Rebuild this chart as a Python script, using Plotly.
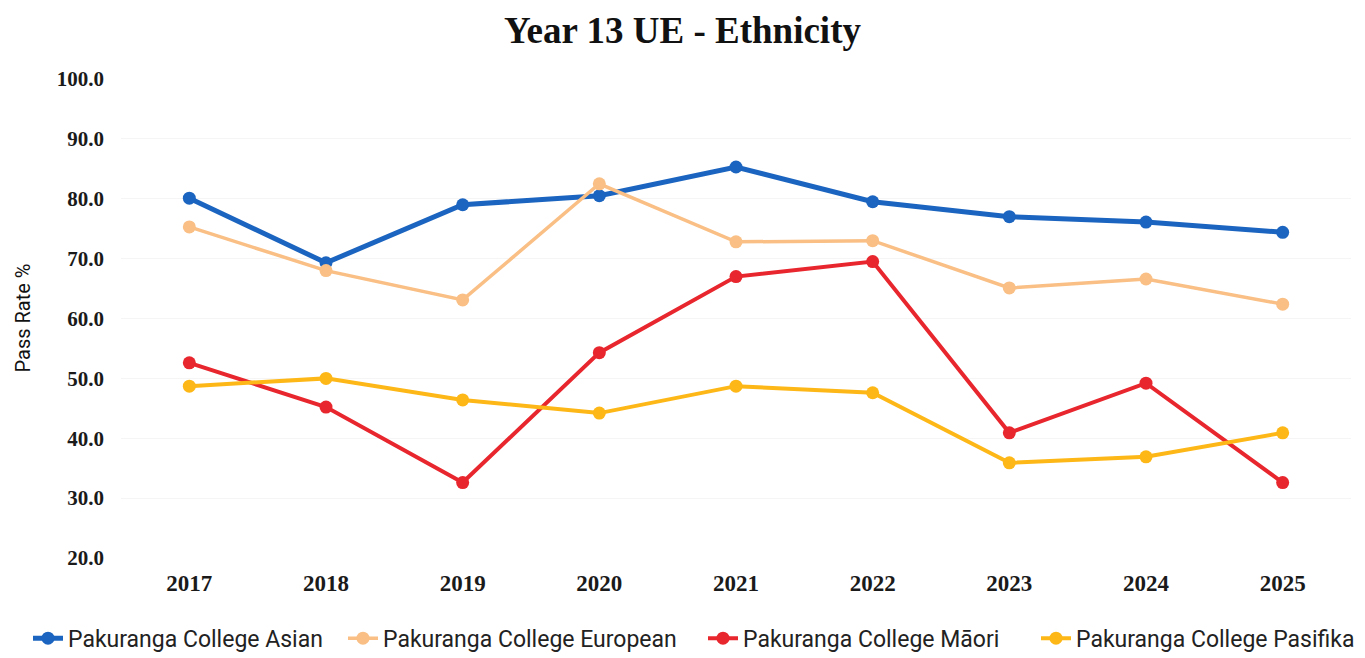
import plotly.graph_objects as go

years = ["2017", "2018", "2019", "2020", "2021", "2022", "2023", "2024", "2025"]
asian = [80.1, 69.3, 79.0, 80.5, 85.3, 79.5, 77.0, 76.1, 74.4]
european = [75.3, 68.0, 63.1, 82.5, 72.8, 73.0, 65.1, 66.6, 62.4]
maori = [52.6, 45.2, 32.6, 54.3, 67.0, 69.5, 40.9, 49.2, 32.6]
pasifika = [48.7, 50.0, 46.4, 44.2, 48.7, 47.6, 35.9, 36.9, 40.9]

y_ticks = [20, 30, 40, 50, 60, 70, 80, 90, 100]

series = [
    ("Pakuranga College Asian", asian, "#1b64bf", 5),
    ("Pakuranga College European", european, "#f9bf84", 3.5),
    ("Pakuranga College Māori", maori, "#e8262d", 4),
    ("Pakuranga College Pasifika", pasifika, "#fdb717", 4),
]

# one legend box per series so the entries can sit along the bottom edge
legend_ids = ["legend", "legend2", "legend3", "legend4"]
legend_left = [28, 343, 703, 1036]

fig = go.Figure()
for (name, vals, color, width), lid in zip(series, legend_ids):
    fig.add_trace(go.Scatter(
        x=years, y=vals, name=name, mode="lines+markers",
        line=dict(color=color, width=width),
        marker=dict(color=color, size=13, symbol="circle"),
        legend=lid,
    ))

serif = "Liberation Serif, DejaVu Serif, serif"
sans = "Roboto, Liberation Sans, sans-serif"

legend_style = dict(font=dict(family=sans, size=23, color="#222"),
                    itemwidth=30, xref="container", yref="container",
                    xanchor="left", y=0.03, yanchor="middle",
                    bgcolor="rgba(0,0,0,0)")

fig.update_layout(
    width=1365, height=658,
    paper_bgcolor="white", plot_bgcolor="white",
    margin=dict(l=121, r=14, t=79, b=100, autoexpand=False),
    title=dict(text="<b>Year 13 UE - Ethnicity</b>", x=0.5, xanchor="center",
               y=0.955, yanchor="middle",
               font=dict(family=serif, size=37, color="#111")),
    xaxis=dict(type="category", range=[-0.5, 8.5], showgrid=False,
               showline=False, zeroline=False, ticks="",
               tickfont=dict(family=serif, size=23, color="#1a1a1a", weight="bold"),
               ticklabelstandoff=9),
    yaxis=dict(range=[20, 100], tickvals=y_ticks,
               ticktext=[f"{v:.1f}" for v in y_ticks],
               showgrid=True, gridcolor="#f5f5f5", gridwidth=1,
               zeroline=False, showline=False, ticks="",
               tickfont=dict(family=serif, size=21, color="#1a1a1a", weight="bold"),
               ticklabelstandoff=16),
    showlegend=True,
)

# vertical axis caption
fig.add_annotation(text="Pass Rate %", textangle=-90, showarrow=False,
                   xref="paper", yref="paper", x=(22 - 121) / 1230, y=0.5,
                   xanchor="center", yanchor="middle",
                   font=dict(family=sans, size=20, color="#111"))

for lid, left in zip(legend_ids, legend_left):
    fig.update_layout({lid: dict(x=left / 1365, **legend_style)})

fig.write_html("out.html")
